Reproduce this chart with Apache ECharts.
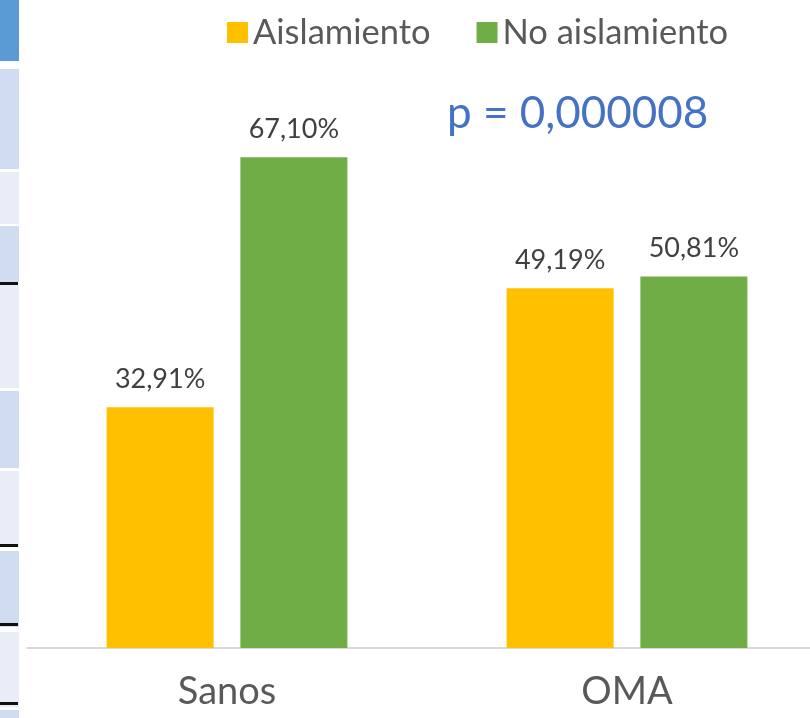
<!DOCTYPE html>
<html lang="es">
<head>
    <meta charset="UTF-8">
    <title>Aislamiento</title>
    <script src="https://cdn.jsdelivr.net/npm/echarts@6/dist/echarts.min.js"></script>
    <style>
        html, body { margin: 0; padding: 0; background: #ffffff; }
        #chart { width: 810px; height: 718px; }
    </style>
</head>
<body>
    <div id="chart"></div>
    <script>
        // datos
        var categorias = ['Sanos', 'OMA'];
        var seriesNombres = ['Aislamiento', 'No aislamiento'];
        var aislamiento = [32.91, 49.19];
        var noAislamiento = [67.10, 50.81];
        var textoP = 'p = 0,000008';

        var fuente = 'Lato, "Noto Sans", sans-serif';

        // tira decorativa de la izquierda (recorte de la captura)
        var tira = [
            [0, 61, '#5b9bd5'], [69, 100, '#d0dcef'], [172, 52, '#e8edf7'],
            [226, 56, '#d0dcef'], [285, 103, '#e8edf7'], [391, 77, '#d0dcef'],
            [471, 76, '#e8edf7'], [551, 76, '#d0dcef'], [632, 75, '#e8edf7'],
            [710, 8, '#d0dcef']
        ];
        var marcas = [283, 545, 624, 703];
        var graficos = [];
        tira.forEach(function (t) {
            graficos.push({ type: 'rect', shape: { x: 0, y: t[0], width: 19, height: t[1] }, style: { fill: t[2] }, silent: true });
        });
        marcas.forEach(function (y) {
            graficos.push({ type: 'rect', shape: { x: 0, y: y - 1, width: 18, height: 3 }, style: { fill: '#111111' }, silent: true });
        });
        graficos.push({
            type: 'text', left: 447, top: 92,
            style: { text: textoP, fill: '#4472c4', font: '44px ' + fuente }
        });

        var myChart = echarts.init(document.getElementById('chart'));

        function etiqueta(v) {
            return v.value.toFixed(2).replace('.', ',') + '%';
        }

        myChart.setOption({
            animation: false,
            backgroundColor: '#ffffff',
            legend: {
                data: seriesNombres,
                left: 222,
                top: 10,
                itemWidth: 21,
                itemHeight: 21,
                itemGap: 46,
                icon: 'rect',
                textStyle: { fontFamily: fuente, fontSize: 34.5, color: '#595959', lineHeight: 35 }
            },
            grid: { left: 27, top: 63, width: 800, height: 585, outerBoundsMode: 'none' },
            xAxis: {
                type: 'category',
                data: categorias,
                axisLine: { lineStyle: { color: '#d9d9d9', width: 2 } },
                axisTick: { show: false },
                axisLabel: { fontFamily: fuente, fontSize: 38, color: '#595959', margin: 25 }
            },
            yAxis: {
                type: 'value',
                min: 0,
                max: 80,
                show: false,
                splitLine: { show: false }
            },
            series: [{
                name: seriesNombres[0],
                type: 'bar',
                data: aislamiento,
                barWidth: 107,
                barGap: '25%',
                itemStyle: { color: '#ffc000' },
                label: { show: true, position: 'top', distance: 15, formatter: etiqueta, fontFamily: fuente, fontSize: 27, color: '#404040' }
            }, {
                name: seriesNombres[1],
                type: 'bar',
                data: noAislamiento,
                barWidth: 107,
                itemStyle: { color: '#70ad47' },
                label: { show: true, position: 'top', distance: 15, formatter: etiqueta, fontFamily: fuente, fontSize: 27, color: '#404040' }
            }],
            graphic: graficos
        });
    </script>
</body>
</html>
